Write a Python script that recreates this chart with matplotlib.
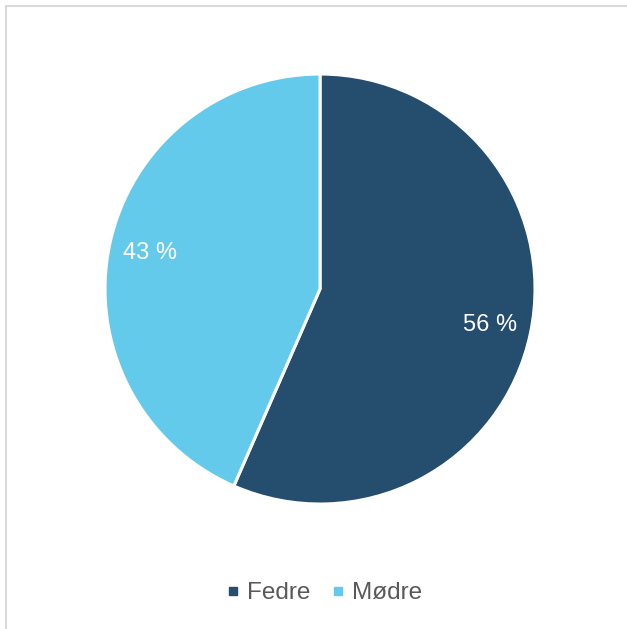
import numpy as np
import matplotlib.pyplot as plt
from matplotlib.lines import Line2D

# Data
kategorier = ['Fedre', 'Mødre']
andeler = [56, 43]
etiketter = ['56 %', '43 %']
farger = ['#254D6E', '#63CAEC']

plt.rcParams['font.family'] = ['Liberation Sans', 'DejaVu Sans']

fig = plt.figure(figsize=(6.27, 6.29), dpi=100)
ax = fig.add_axes([0.5104 - 0.3429, 0.5405 - 0.3418, 0.6858, 0.6836])

wedges, _ = ax.pie(andeler, colors=farger, startangle=90, counterclock=False,
                   wedgeprops=dict(edgecolor='white', linewidth=2.2))
ax.set_xlim(-1, 1)
ax.set_ylim(-1, 1)
ax.set_aspect('equal')

# Dataetiketter
for w, tekst in zip(wedges, etiketter):
    ang = np.deg2rad((w.theta1 + w.theta2) / 2)
    ax.text(0.81 * np.cos(ang), 0.81 * np.sin(ang), tekst, ha='center', va='center',
            color='white', fontsize=17)

# Legende
handles = [Line2D([], [], marker='s', linestyle='none', markersize=5.5,
                  markerfacecolor=c, markeredgecolor=c) for c in farger]
fig.legend(handles, kategorier, loc='center', bbox_to_anchor=(0.518, 0.057),
           ncol=2, frameon=False, fontsize=17.5, labelcolor='#595959',
           handletextpad=0.32, columnspacing=0.9, handlelength=0.5)

# Ramme (kun topp og venstre synlig)
fig.add_artist(Line2D([6 / 627, 626 / 627], [1 - 6 / 629, 1 - 6 / 629],
                      color='#D9D9D9', linewidth=1.5, transform=fig.transFigure))
fig.add_artist(Line2D([6 / 627, 6 / 627], [0, 1 - 6 / 629],
                      color='#D9D9D9', linewidth=1.5, transform=fig.transFigure))

fig.savefig('out.png', dpi=100, facecolor='white')
